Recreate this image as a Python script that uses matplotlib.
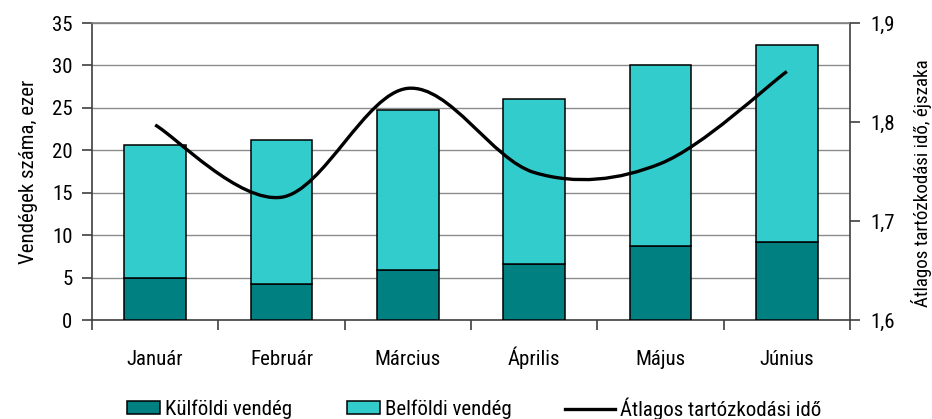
import matplotlib
matplotlib.use("Agg")
import matplotlib.pyplot as plt
from matplotlib.path import Path
from matplotlib.patches import PathPatch, Patch
from matplotlib.lines import Line2D
from matplotlib import font_manager
import matplotlib.transforms as mtransforms
import numpy as np

names = {f.name for f in font_manager.fontManager.ttflist}
if 'Roboto Condensed' in names:
    plt.rcParams['font.family'] = ['Roboto Condensed', 'DejaVu Sans']
    FS = 15
else:
    plt.rcParams['font.family'] = ['Liberation Sans', 'DejaVu Sans']
    FS = 13

months = ["Január", "Február", "Március", "Április", "Május", "Június"]
kulfoldi = [5.0, 4.25, 5.9, 6.6, 8.75, 9.2]
osszes = [20.6, 21.2, 24.8, 26.0, 30.0, 32.4]
belfoldi = [t - k for t, k in zip(osszes, kulfoldi)]
atlag = [1.797, 1.724, 1.834, 1.749, 1.758, 1.851]

c_dark = "#008080"
c_light = "#33CCCC"

fig = plt.figure(figsize=(9.32, 4.19), dpi=100)
ax = fig.add_axes([92/932, 1-320/419, (850-92)/932, (320-23)/419])
x = np.arange(len(months))
w = 0.49
ax.bar(x, kulfoldi, w, color=c_dark, edgecolor="black", linewidth=1.1, zorder=3)
ax.bar(x, belfoldi, w, bottom=kulfoldi, color=c_light, edgecolor="black", linewidth=1.1, zorder=3)
ax.set_xlim(-0.5, 5.5)
ax.set_ylim(0, 35)
ax.set_yticks(range(0, 36, 5))
ax.yaxis.grid(True, color="#8c8c8c", linewidth=1.0, zorder=0)
ax.set_axisbelow(True)
ax.set_xticks(np.arange(-0.5, 6, 1))
ax.set_xticklabels([])
ax.tick_params(axis='x', which='major', length=7, width=1.2, color="#404040", direction='out')
ax.tick_params(axis='y', length=7, width=1.2, color="#404040", labelsize=FS, pad=7)
trans = mtransforms.blended_transform_factory(ax.transData, ax.transAxes)
trans = trans + mtransforms.ScaledTranslation(0, -45/100, fig.dpi_scale_trans)
for xi, m in zip(x, months):
    ax.text(xi, 0, m, transform=trans, ha='center', va='baseline', fontsize=FS)
for s in ax.spines.values():
    s.set_color("#404040")
    s.set_linewidth(1.2)
ax.spines['top'].set_color("#808080")
ax.set_ylabel("Vendégek száma, ezer", fontsize=FS, labelpad=10)

ax2 = ax.twinx()
ax2.set_ylim(1.6, 1.9)
ax2.set_yticks([1.6, 1.7, 1.8, 1.9])
ax2.set_yticklabels(["1,6", "1,7", "1,8", "1,9"])
ax2.tick_params(axis='y', length=7, width=1.2, color="#404040", labelsize=FS, pad=8)
for s in ax2.spines.values():
    s.set_visible(False)
ax2.set_ylabel("Átlagos tartózkodási idő, éjszaka", fontsize=FS - 1.3)
ax2.yaxis.set_label_coords((911 - 92) / 758, (320 - 183) / 297)

# smoothed line (Catmull-Rom as cubic Bezier)
pts = list(zip(x.astype(float), atlag))
verts = [pts[0]]
codes = [Path.MOVETO]
n = len(pts)
for i in range(n - 1):
    p0 = np.array(pts[i - 1] if i > 0 else pts[i])
    p1 = np.array(pts[i])
    p2 = np.array(pts[i + 1])
    p3 = np.array(pts[i + 2] if i + 2 < n else pts[i + 1])
    c1 = p1 + (p2 - p0) / 6
    c2 = p2 - (p3 - p1) / 6
    verts += [tuple(c1), tuple(c2), tuple(p2)]
    codes += [Path.CURVE4] * 3
ax2.add_patch(PathPatch(Path(verts, codes), facecolor="none", edgecolor="black",
                        linewidth=2.4, zorder=5, capstyle='butt'))

pxem = FS * 100 / 72
items = [
    (Patch(facecolor=c_dark, edgecolor="black", linewidth=1.1), "Külföldi vendég", 127, 33),
    (Patch(facecolor=c_light, edgecolor="black", linewidth=1.1), "Belföldi vendég", 347, 33),
    (Line2D([0], [0], color="black", linewidth=2.4), "Átlagos tartózkodási idő", 565, 50),
]
for h, lab, x0, hl in items:
    leg = fig.legend([h], [lab], loc="center left", bbox_to_anchor=(x0/932, 1-409/419),
                     frameon=False, fontsize=FS, handlelength=hl/pxem, handleheight=12/pxem,
                     handletextpad=5/pxem, borderpad=0, borderaxespad=0)

fig.savefig("out.png", dpi=100)
